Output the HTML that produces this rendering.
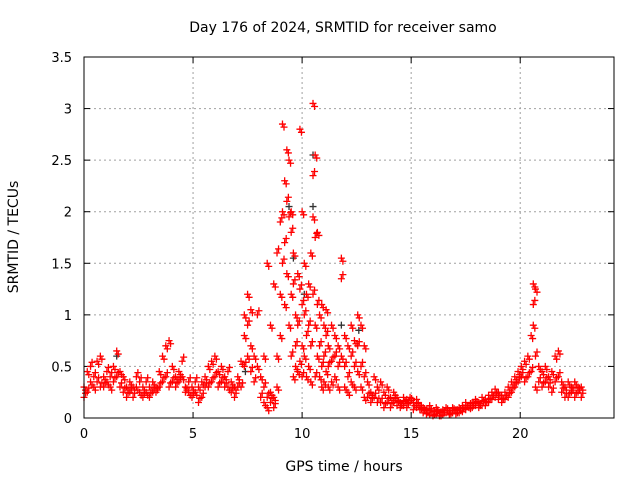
<!DOCTYPE html>
<html><head><meta charset="utf-8"><style>
body{margin:0;background:#fff;}
svg{display:block;font-family:"DejaVu Sans","Liberation Sans",sans-serif;}
</style></head><body>
<svg id="chart" width="640" height="480">
<text x="343" y="32" font-size="14" text-anchor="middle">Day 176 of 2024, SRMTID for receiver samo</text>
<text x="344" y="471" font-size="14" text-anchor="middle">GPS time / hours</text>
<text x="18" y="237" font-size="14" text-anchor="middle" transform="rotate(-90 18 237)">SRMTID / TECUs</text>
<g id="grid"></g>
<g id="marks"></g>
<rect x="84" y="57" width="530" height="361" fill="none" stroke="#000" stroke-width="1"/>
</svg>
<script>
const xTicks=[0,5,10,15,20];
const yTicks=[0,0.5,1,1.5,2,2.5,3,3.5];
const yTickLabels=["0","0.5","1","1.5","2","2.5","3","3.5"];
const hours=[0.0,0.15,0.3,0.45,0.6,0.75,0.9,1.05,1.2,1.35,1.5,1.65,1.8,1.95,2.1,2.25,2.4,2.55,2.7,2.85,3.0,3.15,3.3,3.45,3.6,3.75,3.9,4.05,4.2,4.35,4.5,4.65,4.8,4.95,5.1,5.25,5.4,5.55,5.7,5.85,6.0,6.15,6.3,6.45,6.6,6.75,6.9,7.05,7.2,
7.35,7.5,7.65,7.8,7.95,8.1,8.25,8.4,8.55,8.7,8.85,9.0,9.1,9.2,9.3,9.4,9.5,9.6,9.7,9.8,9.9,10.0,10.1,10.2,10.3,10.4,10.5,10.6,10.7,10.8,10.9,11.0,11.1,11.2,11.35,11.5,11.65,11.8,11.95,12.1,12.25,12.4,12.55,12.7,12.85,
13.0,13.15,13.3,13.45,13.6,13.75,13.9,14.05,14.2,14.35,14.5,14.65,14.8,14.95,15.1,15.25,15.4,15.55,15.7,15.85,16.0,16.15,16.3,16.45,16.6,16.75,16.9,17.05,17.2,17.35,17.5,17.65,17.8,17.95,18.1,18.25,18.4,18.55,18.7,18.85,19.0,19.15,19.3,19.45,19.6,19.75,19.9,20.05,20.2,20.35,20.5,20.6,20.7,20.85,21.0,21.15,21.3,21.45,21.6,21.75,21.9,22.05,22.2,22.35,22.5,22.65,22.8];
const tecu=[[0.3,0.2],[0.45,0.25],[0.35,0.5],[0.3,0.4],[0.55,0.35],[0.6,0.3],[0.4,0.3],[0.35,0.45],[0.3,0.4],[0.5,0.35],[0.65,0.4],[0.45,0.3],[0.4,0.25],[0.3,0.2],[0.35,0.25],[0.3,0.2],[0.3,0.4],[0.25,0.35],[0.3,0.2],[0.25,0.35],[0.3,0.2],[0.35,0.25],[0.3,0.25],[0.45,0.3],[0.6,0.35],[0.7,0.4],[0.75,0.3],[0.5,0.35],[0.4,0.3],[0.45,0.35],[0.4,0.55],[0.3,0.25],[0.25,0.35],[0.3,0.2],[0.25,0.35],[0.3,0.15],[0.35,0.2],[0.4,0.3],[0.5,0.3],[0.55,0.35],[0.6,0.4],[0.45,0.3],[0.5,0.35],[0.4,0.3],[0.3,0.45],[0.35,0.25],[0.3,0.2],[0.4,0.3],[0.55,0.3],
[0.8,0.5,1.0],[1.2,0.9,0.6],[0.7,0.45,1.05],[0.6,0.35],[0.5,1.0],[0.4,0.2],[0.15,0.3,0.6],[0.1,0.2,1.5],[0.25,0.15,0.9],[0.2,0.1,1.3],[0.6,1.6,0.3],[1.2,1.9,0.8],[2.85,1.5,2.0],[2.3,1.7,1.1],[2.6,2.1,1.4],[2.5,1.95,0.9],[2.0,1.8,1.2,0.6],[1.6,1.3,0.4],[1.0,0.7,0.5],[1.4,0.9,0.45],[2.8,1.25,0.55],[2.0,1.1,0.7,0.4],[1.5,1.0,0.6],[1.2,0.8,0.4],[1.3,0.9,0.5],[1.6,0.7,0.35],[3.05,2.35,1.95,1.2],[2.55,1.75,0.9,0.4],[1.8,1.1,0.6],[1.0,0.7,0.4],[1.1,0.5,0.3],[0.9,0.6,0.35],[1.05,0.8,0.45],[0.7,0.5,0.3],[0.9,0.55,0.35],[0.8,0.6,0.4],[0.7,0.5,0.3],[1.55,1.35,0.6],[0.8,0.5,0.3],[0.7,0.4,0.25],[0.9,0.6,0.35],[0.75,0.5,0.3],[1.0,0.7,0.45],[0.9,0.5,0.3],[0.7,0.4,0.2],
[0.35,0.2],[0.25,0.15],[0.4,0.2],[0.3,0.15],[0.35,0.15],[0.25,0.1],[0.3,0.15],[0.2,0.1],[0.25,0.15],[0.2,0.12],[0.15,0.1],[0.2,0.12],[0.18,0.1],[0.2,0.15],[0.15,0.08],[0.18,0.1],[0.12,0.08],[0.1,0.05],[0.08,0.04],[0.12,0.03],[0.06,0.02],[0.1,0.04],[0.05,0.02],[0.08,0.03],[0.1,0.05],[0.07,0.03],[0.1,0.05],[0.08,0.04],[0.1,0.05],[0.12,0.06],[0.15,0.08],[0.12,0.1],[0.15,0.1],[0.18,0.12],[0.15,0.1],[0.2,0.12],[0.18,0.12],[0.22,0.15],[0.25,0.18],[0.28,0.2],[0.25,0.18],[0.22,0.15],[0.25,0.18],[0.3,0.2],[0.35,0.25],[0.4,0.3],[0.45,0.35],[0.5,0.4],[0.55,0.35],[0.6,0.4],[0.8,0.45],[1.3,1.1,0.9],[1.25,0.6,0.3],[0.5,0.35],[0.45,0.3],[0.5,0.35],[0.4,0.3],[0.45,0.25],[0.6,0.35],[0.65,0.4],[0.35,0.25],[0.3,0.2],[0.35,0.2],[0.3,0.25],[0.35,0.2],[0.3,0.25],[0.3,0.2]];
const blackHours=[9.4,9.6,10.5,10.5,10.1,11.8,12.6,1.5,7.4];
const blackTecu=[2.05,1.55,2.55,2.05,1.2,0.9,0.85,0.6,0.45];

const X0=84,X1=614,XMAX=24.3,Y0=418,Y1=57,YMAX=3.5;
const sx=v=>X0+(X1-X0)*v/XMAX;
const sy=v=>Y0-(Y0-Y1)*v/YMAX;
const NS="http://www.w3.org/2000/svg";
const grid=document.getElementById('grid'),marks=document.getElementById('marks'),svg=document.getElementById('chart');
function mk(tag,attrs,parent){const e=document.createElementNS(NS,tag);for(const k in attrs)e.setAttribute(k,attrs[k]);parent.appendChild(e);return e;}
xTicks.forEach(t=>{
  const x=sx(t);
  if(t>0){const g=mk('line',{x1:x,x2:x,y1:Y1,y2:Y0,stroke:'#a0a0a0','stroke-dasharray':'2,3'},grid);
  
  }
  mk('line',{x1:x,x2:x,y1:Y0,y2:Y0-6,stroke:'#000'},grid);
  mk('line',{x1:x,x2:x,y1:Y1,y2:Y1+6,stroke:'#000'},grid);
  const l=mk('text',{x:x,y:Y0+20,'font-size':13,'text-anchor':'middle'},svg);l.textContent=t;
  
  
});
yTicks.forEach((t,i)=>{
  const y=sy(t);
  if(t>0&&t<YMAX){const g=mk('line',{x1:X0,x2:X1,y1:y,y2:y,stroke:'#a0a0a0','stroke-dasharray':'2,3'},grid);
  
  }
  mk('line',{x1:X0,x2:X0+6,y1:y,y2:y,stroke:'#000'},grid);
  mk('line',{x1:X1,x2:X1-6,y1:y,y2:y,stroke:'#000'},grid);
  const l=mk('text',{x:X0-12,y:y+5,'font-size':13,'text-anchor':'end'},svg);l.textContent=yTickLabels[i];
  
  
});
function plus(t,v,c){
  const x=sx(t),y=sy(v);
  const p=mk('path',{d:`M${x-3.5},${y}H${x+3.5}M${x},${y-3.5}V${y+3.5}`,stroke:c,'stroke-width':1.3,fill:'none'},marks);
  
  
}
blackHours.forEach((t,i)=>plus(t,blackTecu[i],'#333'));
hours.forEach((t,i)=>{tecu[i].forEach((v,j)=>{plus(t,v,'#ff0000');plus(t+0.07,v+(j%2?0.04:-0.03),'#ff0000');});});
</script>
</body></html>
